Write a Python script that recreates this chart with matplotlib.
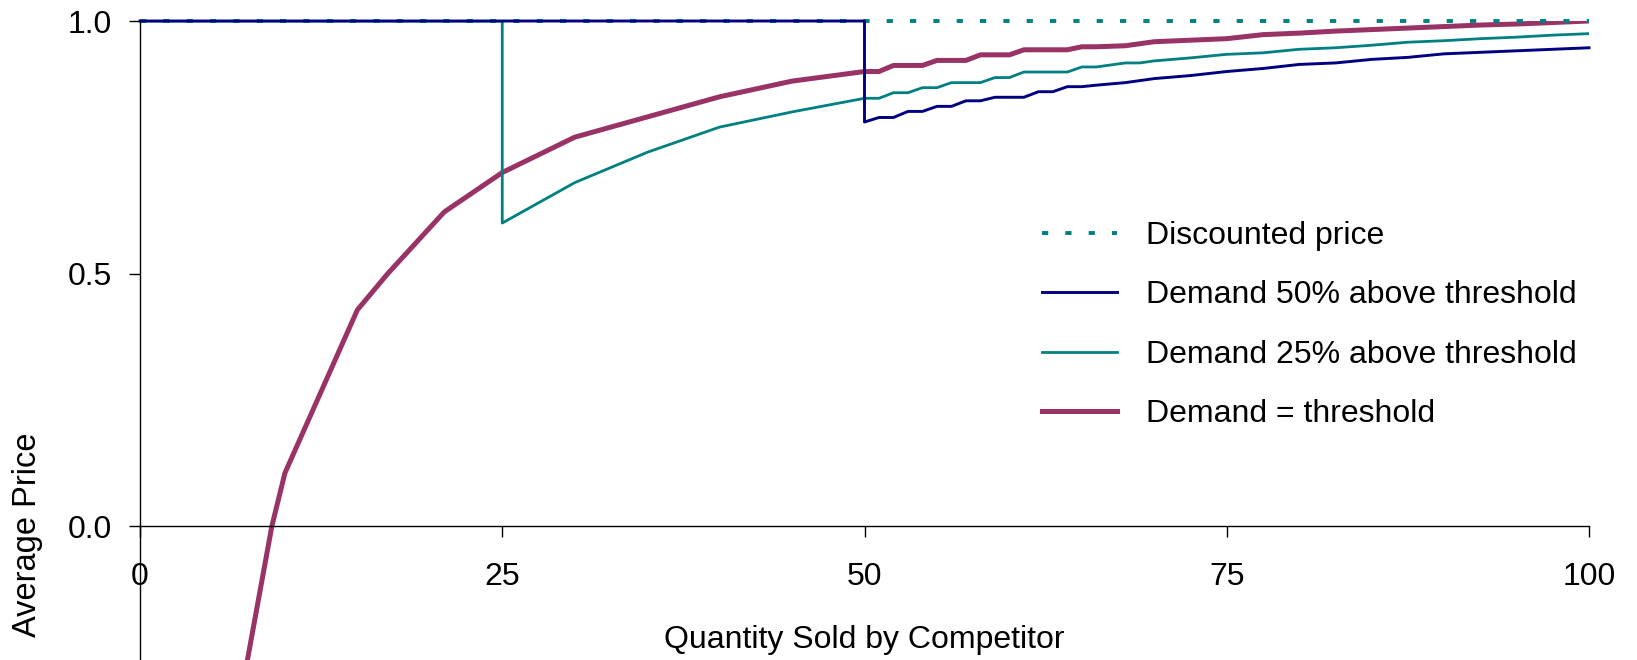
import matplotlib
matplotlib.use("Agg")
import matplotlib.pyplot as plt

plt.rcParams['font.family'] = ['Liberation Sans', 'DejaVu Sans']

# values
disc_x = [0, 100]
disc_y = [1.0, 1.0]

d50_x = [0, 50, 50, 51, 52, 53, 54, 55, 56, 57, 58, 59, 60, 61, 62, 63, 64, 65, 66, 68,
         70, 72.5, 75, 77.5, 80, 82.5, 85, 87.5, 90, 92.5, 95, 97.5, 100]
d50_y = [1.0, 1.0, 0.80, 0.809, 0.809, 0.821, 0.821, 0.831, 0.831, 0.842, 0.842, 0.849, 0.849,
         0.849, 0.860, 0.860, 0.870, 0.870, 0.873, 0.878,
         0.886, 0.892, 0.900, 0.906, 0.914, 0.917, 0.924, 0.928, 0.935, 0.938, 0.941, 0.944, 0.947]

d25_x = [0, 25, 25, 30, 35, 40, 45, 50, 51, 52, 53, 54, 55, 56, 57, 58, 59, 60, 61, 62, 63, 64,
         65, 66, 68, 69, 70, 72.5, 75, 77.5, 80, 82.5, 85, 87.5, 90, 92.5, 95, 97.5, 100]
d25_y = [1.0, 1.0, 0.60, 0.68, 0.74, 0.79, 0.82, 0.847, 0.847, 0.858, 0.858, 0.868, 0.868, 0.878,
         0.878, 0.878, 0.888, 0.888, 0.899, 0.899, 0.899, 0.899, 0.909, 0.909, 0.917, 0.917,
         0.921, 0.927, 0.934, 0.937, 0.944, 0.947, 0.952, 0.958, 0.961, 0.965, 0.968, 0.972, 0.975]

dth_x = [7.0, 9.1, 10, 15, 17.1, 21, 25, 30, 35, 40, 45, 50, 51, 52, 53, 54, 55, 56, 57, 58, 59,
         60, 61, 62, 63, 64, 65, 66, 68, 70, 72.5, 75, 77.5, 80, 82.5, 85, 87.5, 90, 92.5, 95,
         97.5, 100]
dth_y = [-0.33, 0.0, 0.105, 0.428, 0.50, 0.622, 0.70, 0.77, 0.81, 0.85, 0.881, 0.90, 0.90, 0.912,
         0.912, 0.912, 0.922, 0.922, 0.922, 0.933, 0.933, 0.933, 0.943, 0.943, 0.943, 0.943,
         0.949, 0.949, 0.951, 0.959, 0.962, 0.965, 0.973, 0.976, 0.980, 0.983, 0.986, 0.989,
         0.992, 0.994, 0.997, 1.0]

fig = plt.figure(figsize=(16.37, 6.6), dpi=100)
ax = fig.add_axes([140 / 1637, 0.0, 1449 / 1637, 639 / 660])

l_th, = ax.plot(dth_x, dth_y, color='#993366', lw=3.6, label='Demand = threshold', zorder=2)
l_25, = ax.plot(d25_x, d25_y, color='#008080', lw=2.0, label='Demand 25% above threshold', zorder=2.1)
l_disc, = ax.plot(disc_x, disc_y, color='#008080', lw=2.8, dashes=(1.6, 4.4),
                  label='Discounted price', zorder=2.2, clip_on=False)
l_50, = ax.plot(d50_x, d50_y, color='#000080', lw=2.1, label='Demand 50% above threshold',
                zorder=2.3, clip_on=False)

ax.set_xlim(0, 100)
ax.set_ylim(-0.265, 1.0)

ax.spines['top'].set_visible(False)
ax.spines['right'].set_visible(False)
ax.spines['bottom'].set_position(('data', 0))
ax.spines['left'].set_linewidth(1.0)
ax.spines['bottom'].set_linewidth(1.0)

ax.set_xticks([0, 25, 50, 75, 100])
ax.set_yticks([0.0, 0.5, 1.0])
ax.set_yticklabels(['0.0', '0.5', '1.0'])
ax.tick_params(axis='x', direction='out', length=8, width=1.0, pad=18, labelsize=23)
ax.tick_params(axis='y', direction='out', length=8, width=1.0, pad=12, labelsize=23)

ax.set_xlabel('Quantity Sold by Competitor', fontsize=23)
ax.xaxis.set_label_coords(0.5, 0.054)
ax.set_ylabel('Average Price', fontsize=23.5)
ax.yaxis.set_label_coords(-0.067, 0.196)

ax.legend(handles=[l_disc, l_50, l_25, l_th], loc='upper left',
          bbox_to_anchor=(1042 / 1637, 439 / 660), bbox_transform=fig.transFigure,
          frameon=False, fontsize=23, handlelength=2.35, handletextpad=0.9,
          labelspacing=0.92, borderpad=0, borderaxespad=0)

fig.savefig('out.png', dpi=100)
